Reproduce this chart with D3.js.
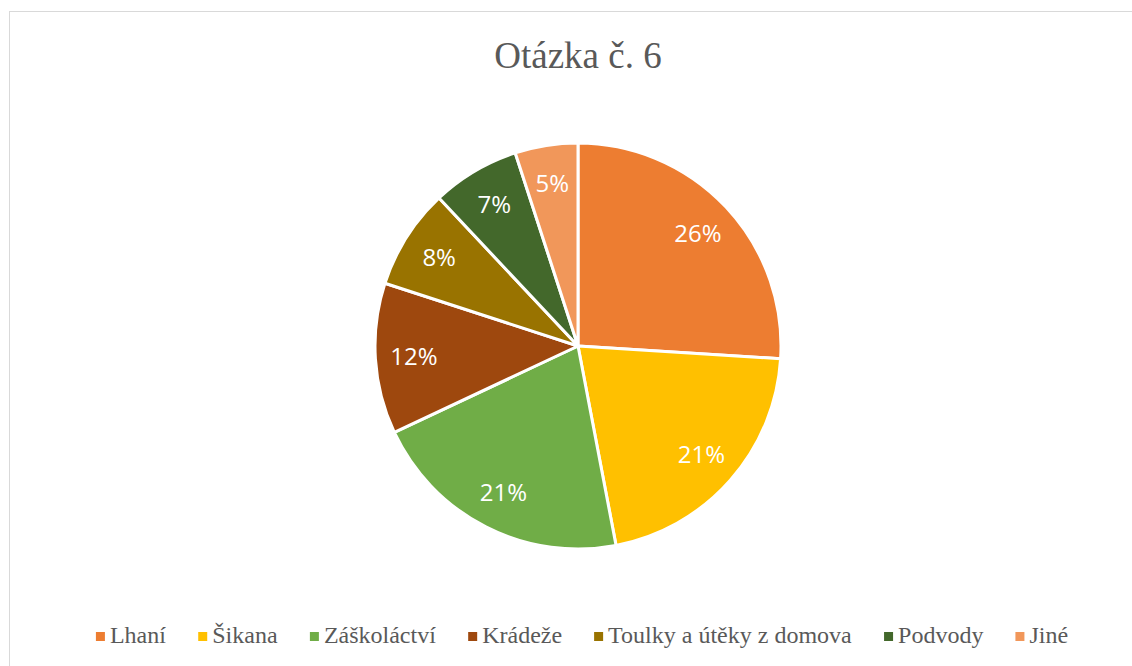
<!DOCTYPE html>
<meta charset="utf-8">
<style>
body { margin: 0; background: #fff; }
.title { font-family: "Liberation Serif", "Times New Roman", serif; font-size: 37px; fill: #595959; }
.legend text { font-family: "Liberation Serif", "Times New Roman", serif; font-size: 24px; fill: #595959; }
.label { font-family: "Open Sans", "Liberation Sans", sans-serif; font-size: 24px; fill: #fff; }
</style>
<body>
<script src="https://cdn.jsdelivr.net/npm/d3@7"></script>
<script>
    const categories = ["Lhaní", "Šikana", "Záškoláctví", "Krádeže", "Toulky a útěky z domova", "Podvody", "Jiné"];
    const values = [26, 21, 21, 12, 8, 7, 5];
    const colors = ["#ED7D31", "#FFC000", "#70AD47", "#9E480E", "#997300", "#43682B", "#F1975A"];

    const width = 1132;
    const height = 666;
    const cx = 578, cy = 346, radius = 203;

    const svg = d3.select("body").append("svg")
        .attr("width", width)
        .attr("height", height);

    svg.append("rect")
        .attr("x", 9.5).attr("y", 11.5)
        .attr("width", width).attr("height", height)
        .attr("fill", "none")
        .attr("stroke", "#d9d9d9");

    svg.append("text")
        .attr("class", "title")
        .attr("x", cx).attr("y", 68)
        .attr("text-anchor", "middle")
        .text("Otázka č. 6");

    const data = categories.map(function(c, i) { return { name: c, value: values[i], color: colors[i] }; });

    const pie = d3.pie().sort(null).value(function(d) { return d.value; });
    const arc = d3.arc().innerRadius(0).outerRadius(radius);
    const labelArc = d3.arc().innerRadius(radius * 0.81).outerRadius(radius * 0.81);

    const g = svg.append("g").attr("transform", "translate(" + cx + "," + cy + ")");

    const arcs = pie(data);

    g.selectAll("path")
        .data(arcs)
        .enter().append("path")
        .attr("d", arc)
        .attr("fill", function(d) { return d.data.color; })
        .attr("stroke", "#fff")
        .attr("stroke-width", 3)
        .attr("stroke-linejoin", "round");

    g.selectAll(".label")
        .data(arcs)
        .enter().append("text")
        .attr("class", "label")
        .attr("transform", function(d) { return "translate(" + labelArc.centroid(d) + ")"; })
        .attr("text-anchor", "middle")
        .attr("dy", "0.35em")
        .text(function(d) { return d.data.value + "%"; });

    // legend
    const legend = svg.append("g").attr("class", "legend");
    const items = legend.selectAll("g")
        .data(data)
        .enter().append("g");

    items.append("rect")
        .attr("width", 9).attr("height", 9)
        .attr("y", -11)
        .attr("fill", function(d) { return d.color; });

    items.append("text")
        .attr("x", 14)
        .text(function(d) { return d.name; });

    let x = 0;
    const gap = 32;
    items.each(function() {
        const w = this.getBBox().width;
        d3.select(this).attr("transform", "translate(" + x + ",0)");
        x += w + gap;
    });
    const total = x - gap;
    legend.attr("transform", "translate(" + (582 - total / 2) + ",643)");
</script>
</body>
